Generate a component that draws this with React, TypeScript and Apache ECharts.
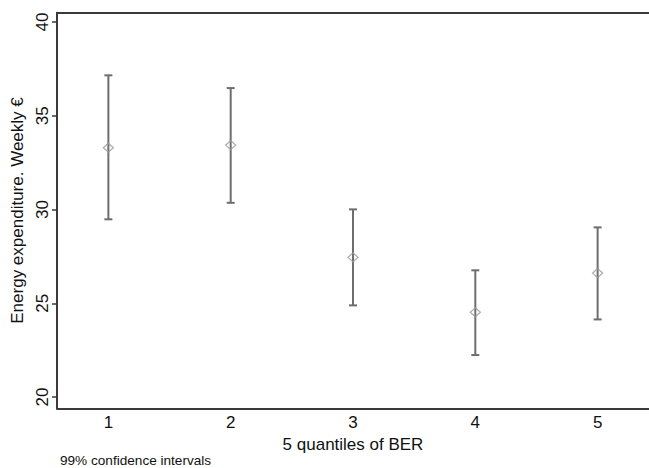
import React, { useEffect, useRef } from "react";
import * as echarts from "echarts";

const categories = [1, 2, 3, 4, 5];
const means = [33.3, 33.44, 27.45, 24.52, 26.61];
const lower = [29.48, 30.36, 24.89, 22.24, 24.14];
const upper = [37.16, 36.48, 30.01, 26.76, 29.05];
const yTicks = [20, 25, 30, 35, 40];

const FONT = "Liberation Sans, Arial, sans-serif";

export default function App() {
  const ref = useRef<HTMLDivElement>(null);
  useEffect(() => {
    document.body.style.margin = "0";
    const chart = echarts.init(ref.current!, null, { renderer: "svg" });
    const ciData = categories.map((c, i) => [c, lower[i], upper[i]]);
    const meanData = categories.map((c, i) => [c, means[i]]);
    chart.setOption({
      animation: false,
      backgroundColor: "#ffffff",
      textStyle: { fontFamily: FONT },
      grid: { left: 57, right: 0, top: 12.7, bottom: 468 - 408.3 },
      xAxis: [
        {
          type: "value",
          min: 0.58,
          max: 5.42,
          position: "bottom",
          axisLine: { show: true, onZero: false, lineStyle: { color: "#3a3a3a", width: 2 } },
          axisTick: { show: false },
          splitLine: { show: false },
          axisLabel: {
            customValues: categories,
            color: "#111",
            fontSize: 17,
            margin: 6,
            fontFamily: FONT,
          },
          name: "5 quantiles of BER",
          nameLocation: "middle",
          nameGap: 23,
          nameTextStyle: { color: "#111", fontSize: 17, fontFamily: FONT },
        },
        {
          type: "value",
          min: 0.58,
          max: 5.42,
          position: "top",
          axisLine: { show: true, onZero: false, lineStyle: { color: "#3a3a3a", width: 2 } },
          axisTick: { show: false },
          axisLabel: { show: false },
          splitLine: { show: false },
        },
      ],
      yAxis: {
        type: "value",
        min: 19.4,
        max: 40.5,
        axisLine: { show: true, onZero: false, lineStyle: { color: "#3a3a3a", width: 2 } },
        axisTick: {
          show: true,
          customValues: yTicks,
          length: 5,
          lineStyle: { color: "#3a3a3a", width: 1.5 },
        },
        splitLine: { show: false },
        axisLabel: {
          customValues: yTicks,
          rotate: 90,
          color: "#111",
          fontSize: 17,
          margin: 6,
          fontFamily: FONT,
        },
        name: "Energy expenditure. Weekly €",
        nameLocation: "middle",
        nameGap: 31,
        nameTextStyle: { color: "#111", fontSize: 17, fontFamily: FONT },
      },
      graphic: [
        {
          type: "text",
          left: 60,
          top: 453,
          style: { text: "99% confidence intervals", fontSize: 13.6, fill: "#111", fontFamily: FONT },
        },
      ],
      series: [
        {
          type: "custom",
          xAxisIndex: 0,
          data: ciData,
          renderItem: (params: any, api: any) => {
            const x = api.value(0);
            const lo = api.coord([x, api.value(1)]);
            const hi = api.coord([x, api.value(2)]);
            const half = 4;
            const style = { stroke: "#6e6e6e", lineWidth: 2 };
            return {
              type: "group",
              children: [
                { type: "line", shape: { x1: lo[0], y1: lo[1], x2: hi[0], y2: hi[1] }, style },
                { type: "line", shape: { x1: hi[0] - half, y1: hi[1], x2: hi[0] + half, y2: hi[1] }, style },
                { type: "line", shape: { x1: lo[0] - half, y1: lo[1], x2: lo[0] + half, y2: lo[1] }, style },
              ],
            };
          },
        },
        {
          type: "scatter",
          xAxisIndex: 0,
          data: meanData,
          symbol: "diamond",
          symbolSize: [10, 9],
          itemStyle: { color: "rgba(255,255,255,0)", borderColor: "#9a9a9a", borderWidth: 1.3 },
          z: 3,
        },
      ],
    });
    return () => chart.dispose();
  }, []);
  return <div ref={ref} style={{ width: 649, height: 468 }} />;
}
